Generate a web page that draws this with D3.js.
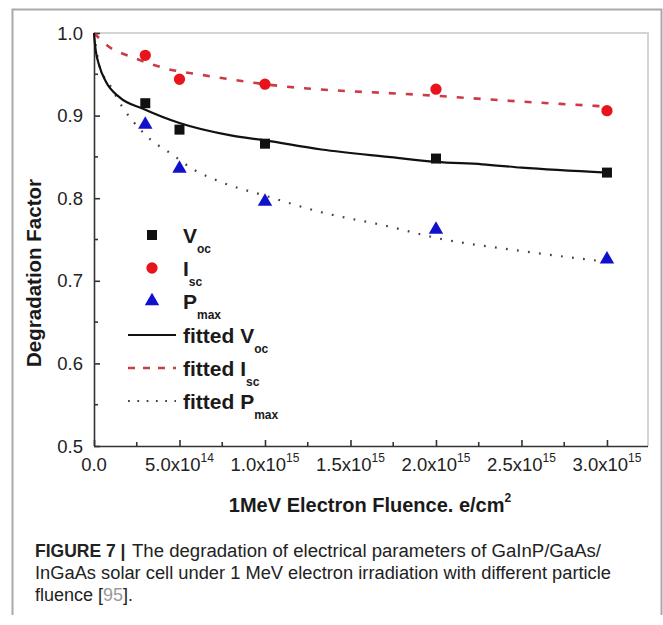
<!DOCTYPE html>
<html>
<head>
<meta charset="utf-8">
<script src="https://cdn.jsdelivr.net/npm/d3@7"></script>
<style>
  html, body { margin: 0; padding: 0; background: #fff; }
  svg { display: block; font-family: "Liberation Sans", Arial, Helvetica, sans-serif; }
</style>
</head>
<body>
<svg id="chart" width="663" height="625"></svg>
<script>
/* ─── Data ───────────────────────────────────────────────────────────────── */

// measured points, fluence in e/cm²
const FLUENCE = [3e14, 5e14, 1e15, 2e15, 3e15];
const VOC     = [0.915, 0.883, 0.866, 0.848, 0.831];
const ISC     = [0.973, 0.944, 0.938, 0.932, 0.906];
const PMAX    = [0.889, 0.836, 0.796, 0.762, 0.726];

// fitted curves, sampled along the drawn lines
const FIT_VOC_X  = [0, 3e12, 1e13, 3e13, 7e13, 1.5e14, 2.9e14, 5e14, 8e14, 1e15, 1.33e15, 1.72e15, 2e15, 2.27e15, 2.5e15, 3e15];
const FIT_VOC_Y  = [1.0, 0.992, 0.979, 0.961, 0.941, 0.922, 0.908, 0.891, 0.876, 0.870, 0.859, 0.850, 0.844, 0.841, 0.837, 0.831];

const FIT_ISC_X  = [0, 9e13, 2.2e14, 4.2e14, 6.4e14, 1e15, 2e15, 2.5e15, 3e15];
const FIT_ISC_Y  = [1.0, 0.983, 0.971, 0.957, 0.949, 0.938, 0.924, 0.917, 0.911];

const FIT_PMAX_X = [0, 3e13, 9.8e13, 1.67e14, 2.17e14, 3.25e14, 4.5e14, 5.8e14, 7.5e14, 1e15, 1.33e15, 1.72e15, 2e15, 2.5e15, 3e15];
const FIT_PMAX_Y = [1.0, 0.962, 0.935, 0.910, 0.896, 0.872, 0.854, 0.835, 0.819, 0.803, 0.783, 0.766, 0.752, 0.736, 0.723];

// axes
const X_DOMAIN = [0, 3.24e15];
const Y_DOMAIN = [0.5, 1.0];
const X_TICKS  = [0, 5e14, 1e15, 1.5e15, 2e15, 2.5e15, 3e15];
const X_MINOR  = [2.5e14, 7.5e14, 1.25e15, 1.75e15, 2.25e15, 2.75e15];
const Y_TICKS  = [0.5, 0.6, 0.7, 0.8, 0.9, 1.0];
const Y_MINOR  = [0.55, 0.65, 0.75, 0.85, 0.95];

// legend
const LEGEND_LABELS = ['V', 'I', 'P', 'fitted V', 'fitted I', 'fitted P'];
const LEGEND_SUBS   = ['oc', 'sc', 'max', 'oc', 'sc', 'max'];

const X_TITLE = '1MeV Electron Fluence. e/cm';
const Y_TITLE = 'Degradation Factor';

/* ─── Layout ─────────────────────────────────────────────────────────────── */

const PLOT = { left: 94, right: 648, top: 33, bottom: 446 };
const RED = '#e8131b', BLUE = '#1111cc', BLACK = '#111', DASHRED = '#cc3a45';

const svg = d3.select('#chart');

const x = d3.scaleLinear().domain(X_DOMAIN).range([PLOT.left, PLOT.right]);
const y = d3.scaleLinear().domain(Y_DOMAIN).range([PLOT.bottom, PLOT.top]);

// outer figure frame
svg.append('path')
  .attr('d', 'M12.5,615 V9.5 H661.5 V615')
  .attr('fill', 'none')
  .attr('stroke', '#a9a9a9')
  .attr('stroke-width', 2);

// plot box (top/right light)
svg.append('path')
  .attr('d', `M${PLOT.left},${PLOT.top} H${PLOT.right} V${PLOT.bottom}`)
  .attr('fill', 'none')
  .attr('stroke', '#d4d4d4')
  .attr('stroke-width', 2);

/* ─── Axes ───────────────────────────────────────────────────────────────── */

function fmtX(v) {
  if (v === 0) return { main: '0.0', sup: '' };
  const e = Math.floor(Math.log10(v));
  return { main: (v / Math.pow(10, e)).toFixed(1) + 'x10', sup: String(e) };
}

const xAxis = svg.append('g').attr('transform', `translate(0,${PLOT.bottom})`)
  .call(d3.axisBottom(x).tickValues(X_TICKS).tickSize(-6).tickFormat(''));
xAxis.append('g').selectAll('line').data(X_MINOR).join('line')
  .attr('x1', d => x(d)).attr('x2', d => x(d)).attr('y1', 0).attr('y2', -4);
xAxis.selectAll('path.domain').attr('d', `M${PLOT.left},0.5H${PLOT.right}`);
xAxis.selectAll('path, line').attr('stroke', '#333').attr('stroke-width', 1.6);

const xl = svg.append('g').selectAll('text').data(X_TICKS).join('text')
  .attr('x', d => x(d))
  .attr('y', 471)
  .attr('text-anchor', 'middle')
  .attr('font-size', 18.5)
  .attr('fill', '#222');
xl.append('tspan').text(d => fmtX(d).main);
xl.append('tspan').attr('font-size', 12).attr('dy', -9).text(d => fmtX(d).sup);

const yAxis = svg.append('g').attr('transform', `translate(${PLOT.left},0)`)
  .call(d3.axisLeft(y).tickValues(Y_TICKS).tickSize(-6).tickFormat(''));
yAxis.append('g').selectAll('line').data(Y_MINOR).join('line')
  .attr('y1', d => y(d)).attr('y2', d => y(d)).attr('x1', 0).attr('x2', 4);
yAxis.selectAll('path.domain').attr('d', `M0.5,${PLOT.top}V${PLOT.bottom}`);
yAxis.selectAll('path, line').attr('stroke', '#333').attr('stroke-width', 1.6);

svg.append('g').selectAll('text').data(Y_TICKS).join('text')
  .attr('x', 83)
  .attr('y', d => y(d) + 6.5)
  .attr('text-anchor', 'end')
  .attr('font-size', 18.5)
  .attr('fill', '#222')
  .text(d => d.toFixed(1));

// axis titles
const xt = svg.append('text')
  .attr('x', 370).attr('y', 512)
  .attr('text-anchor', 'middle')
  .attr('font-size', 20).attr('font-weight', 'bold').attr('fill', '#1a1a1a');
xt.append('tspan').text(X_TITLE);
xt.append('tspan').attr('font-size', 12).attr('dy', -10).text('2');

svg.append('text')
  .attr('transform', 'translate(41,273) rotate(-90)')
  .attr('text-anchor', 'middle')
  .attr('font-size', 20.5).attr('font-weight', 'bold').attr('fill', '#1a1a1a')
  .text(Y_TITLE);

/* ─── Fitted curves ──────────────────────────────────────────────────────── */

const line = d3.line().x(d => x(d[0])).y(d => y(d[1])).curve(d3.curveMonotoneX);
const zip = (a, b) => a.map((v, i) => [v, b[i]]);

const plot = svg.append('g');

plot.append('path').datum(zip(FIT_PMAX_X, FIT_PMAX_Y))
  .attr('d', line).attr('fill', 'none')
  .attr('stroke', '#444').attr('stroke-width', 2.2)
  .attr('stroke-dasharray', '1.8,9.3');

plot.append('path').datum(zip(FIT_ISC_X, FIT_ISC_Y))
  .attr('d', line).attr('fill', 'none')
  .attr('stroke', DASHRED).attr('stroke-width', 2.6)
  .attr('stroke-dasharray', '7,10');

plot.append('path').datum(zip(FIT_VOC_X, FIT_VOC_Y))
  .attr('d', line).attr('fill', 'none')
  .attr('stroke', BLACK).attr('stroke-width', 2.2);

/* ─── Markers ────────────────────────────────────────────────────────────── */

const sym = {
  square:   d3.symbol().type(d3.symbolSquare).size(100),
  circle:   d3.symbol().type(d3.symbolCircle).size(100),
  triangle: d3.symbol().type(d3.symbolTriangle).size(90),
};

function drawPoints(values, shape, color) {
  plot.append('g').selectAll('path').data(zip(FLUENCE, values)).join('path')
    .attr('transform', d => `translate(${x(d[0])},${y(d[1])})`)
    .attr('d', sym[shape]())
    .attr('fill', color);
}
drawPoints(VOC, 'square', BLACK);
drawPoints(ISC, 'circle', RED);
drawPoints(PMAX, 'triangle', BLUE);

/* ─── Legend ─────────────────────────────────────────────────────────────── */

const LEG_Y = [235, 268, 301, 335, 368, 401];
const legend = svg.append('g');

const markerRows = [['square', BLACK], ['circle', RED], ['triangle', BLUE]];
markerRows.forEach(([shape, color], i) => {
  legend.append('path')
    .attr('transform', `translate(152,${LEG_Y[i]})`)
    .attr('d', sym[shape]())
    .attr('fill', color);
});

const lineRows = [
  { stroke: BLACK,   width: 2.2, dash: null },
  { stroke: DASHRED, width: 2.6, dash: '7,8' },
  { stroke: '#444',  width: 2.2, dash: '1.8,7.5' },
];
lineRows.forEach((s, i) => {
  legend.append('line')
    .attr('x1', 128).attr('x2', 176)
    .attr('y1', LEG_Y[i + 3]).attr('y2', LEG_Y[i + 3])
    .attr('stroke', s.stroke).attr('stroke-width', s.width)
    .attr('stroke-dasharray', s.dash);
});

LEGEND_LABELS.forEach((label, i) => {
  const t = legend.append('text')
    .attr('x', 183).attr('y', LEG_Y[i] + 8)
    .attr('font-size', 21).attr('font-weight', 'bold').attr('fill', '#1a1a1a');
  t.append('tspan').text(label);
  t.append('tspan').attr('font-size', 12).attr('dy', 10).text(LEGEND_SUBS[i]);
});

/* ─── Caption ────────────────────────────────────────────────────────────── */

const cap = svg.append('g').attr('font-size', 18).attr('fill', '#222');
cap.append('text').attr('x', 35).attr('y', 557)
  .attr('font-size', 17.5).attr('font-weight', 'bold')
  .text('FIGURE 7 |');
cap.append('text').attr('x', 132).attr('y', 557)
  .attr('textLength', 469).attr('lengthAdjust', 'spacingAndGlyphs')
  .text('The degradation of electrical parameters of GaInP/GaAs/');
cap.append('text').attr('x', 35).attr('y', 579)
  .attr('textLength', 576).attr('lengthAdjust', 'spacingAndGlyphs')
  .text('InGaAs solar cell under 1 MeV electron irradiation with different particle');
const c3 = cap.append('text').attr('x', 35).attr('y', 601);
c3.append('tspan').text('fluence [');
c3.append('tspan').attr('fill', '#999').text('95');
c3.append('tspan').text('].');
</script>
</body>
</html>
